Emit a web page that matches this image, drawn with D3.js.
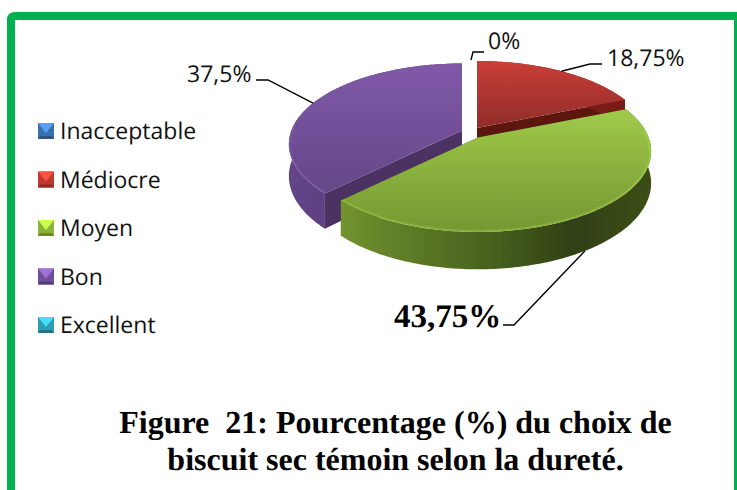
<!DOCTYPE html>
<html><head><meta charset="utf-8">
<script src="https://cdn.jsdelivr.net/npm/d3@7"></script>
<style>html,body{margin:0;padding:0;background:#fff}svg{display:block;text-rendering:geometricPrecision}</style></head>
<body><svg id="c" width="737" height="490"></svg>
<script>
const categories = ["Inacceptable","Médiocre","Moyen","Bon","Excellent"];
const values = [0,18.75,43.75,37.5,0];
const valueLabels = ["0%","18,75%","43,75%","37,5%",""];
const baseColors = ["#3a70ad","#c0392f","#8db33a","#6f4f99","#2f9db5"];
const titleLines = ["Figure  21: Pourcentage (%) du choix de","biscuit sec témoin selon la dureté."];

const svg = d3.select("#c");
const defs = svg.append("defs");

// Frame
svg.append("path").attr("d","M11,490 V20 Q11,16 15,16 H737").attr("fill","none")
  .attr("stroke","#00b050").attr("stroke-width",8);
svg.append("rect").attr("x",734).attr("y",12).attr("width",3).attr("height",478).attr("fill","#00b050");

// Perspective disc projection
const Rx=170.6,Ry=78.4,P=0.17,Depth=31;
const project=(a,r,c,drop=0)=>{
  const X=r*Math.sin(a),Z=r*Math.cos(a),w=1/(1+P*Z);
  return [c[0]+Rx*X*w, c[1]-Ry*Z*w+drop*w];
};
const pieGen=d3.pie().sort(null).value(d=>d).startAngle(0).endAngle(2*Math.PI);
const arcs=pieGen(values);
const line=d3.line();
const centres={1:[477,128],2:[478,137.5],3:[462,130.5]};
const topGrad={1:["#cb3d38","#8f2d29"],2:["#9fcb49","#759632"],3:["#8059a9","#654788"]};
const wallGrad={
  1:[["#7a1c18",0],["#7a1c18",1]],
  2:[["#73932f",0],["#5f7d27",.2],["#46601d",.5],["#313f15",.75],["#3c4f18",1]],
  3:[["#644589",0],["#553a76",.5],["#4f356e",1]]
};
const innerWall={1:"#5d1511",2:"#3d5018",3:"#4b3162"};

function lg(id,stops,horizontal){
  const g=defs.append("linearGradient").attr("id",id)
    .attr("x1",0).attr("y1",0).attr("x2",horizontal?1:0).attr("y2",horizontal?0:1);
  stops.forEach(s=>g.append("stop").attr("offset",s[1]).attr("stop-color",s[0]));
}
defs.append("filter").attr("id","blur").attr("x","-5%").attr("y","-5%").attr("width","110%").attr("height","110%")
  .append("feGaussianBlur").attr("stdDeviation",0.8);
defs.append("filter").attr("id","soft").attr("x","-5%").attr("y","-5%").attr("width","110%").attr("height","110%")
  .append("feGaussianBlur").attr("stdDeviation",0.45);

const gPie=svg.append("g").attr("filter","url(#soft)");
[3,1,2].forEach(i=>{
  const a=arcs[i],c=centres[i];
  const n=Math.max(12,Math.round((a.endAngle-a.startAngle)*60));
  const angs=d3.range(n+1).map(k=>a.startAngle+(a.endAngle-a.startAngle)*k/n);
  const rim=angs.map(t=>project(t,1,c));
  const rimLow=angs.map(t=>project(t,1,c,Depth));
  lg("top"+i,[[topGrad[i][0],0],[topGrad[i][1],1]],false);
  lg("wall"+i,wallGrad[i],true);
  const apex=project(0,0,c),apexLow=project(0,0,c,Depth);
  [[rim[0],rimLow[0]],[rim[n],rimLow[n]]].forEach(e=>{
    gPie.append("path").attr("d",line([apex,e[0],e[1],apexLow])+"Z").attr("fill",innerWall[i]);
  });
  gPie.append("path").attr("d",line(rim.concat(rimLow.slice().reverse()))+"Z").attr("fill",`url(#wall${i})`);
  const topPts=[apex].concat(rim);
  gPie.append("path").attr("d",line(topPts)+"Z").attr("fill",`url(#top${i})`);
  // bevel highlight, front part of the rim only
  const cid="clip"+i;
  defs.append("clipPath").attr("id",cid).append("path").attr("d",line(topPts)+"Z");
  const frontRim=angs.filter(t=>Math.cos(t)<0.1).map(t=>project(t,1,c));
  if(frontRim.length>1) gPie.append("g").attr("clip-path",`url(#${cid})`).append("path").attr("d",line(frontRim))
    .attr("fill","none").attr("stroke",d3.color(topGrad[i][0]).brighter(0.5)).attr("stroke-width",2.5)
    .attr("opacity",.45).attr("filter","url(#blur)");
});

// Leader lines, anchored on slices via the projection
const leaders=[
  {i:0,text:[488,49],path:[[471,60],[473,52],[484,52]]},
  {i:1,text:[607,66],path:[project(arcs[1].startAngle+0.6,1,centres[1]),[590,64],[602,64]]},
  {i:3,text:[187,82],path:[project(arcs[3].startAngle+1.166,1,centres[3]),[268,80],[256,80]]}
];
const gLab=svg.append("g");
leaders.forEach(l=>{
  gLab.append("path").attr("d",line(l.path)).attr("fill","none").attr("stroke","#000").attr("stroke-width",1.4);
  gLab.append("text").attr("x",l.text[0]).attr("y",l.text[1]).text(valueLabels[l.i])
    .attr("font-family","'Open Sans'").attr("font-size",23).attr("fill","#111");
});
const greenAnchor=project(arcs[2].startAngle+1.397,1,centres[2],Depth);
gLab.append("path").attr("d",line([greenAnchor,[514,325],[503,325]])).attr("fill","none").attr("stroke","#000").attr("stroke-width",1.4);
gLab.append("text").attr("x",394).attr("y",327).text(valueLabels[2])
  .attr("font-family","'Liberation Serif'").attr("font-weight","bold").attr("font-size",33).attr("fill","#000");

// Legend
const ly=d3.scalePoint().domain(categories).range([131,325]);
const gLeg=svg.append("g");
categories.forEach((cat,i)=>{
  const y=ly(cat),x=38,s=16,col=d3.color(baseColors[i]);
  const g=gLeg.append("g").attr("transform",`translate(${x},${y-8})`);
  g.append("rect").attr("width",s).attr("height",s).attr("fill",col);
  g.append("path").attr("d",line([[0,0],[s,0],[s/2,s/2+2]])+"Z").attr("fill",col.brighter(1));
  g.append("path").attr("d",line([[0,s],[s,s],[s-2,s-3],[2,s-3]])+"Z").attr("fill",col.darker(.8));
  gLeg.append("text").attr("x",60).attr("y",y+8).text(cat)
    .attr("font-family","'Open Sans'").attr("font-size",23).attr("fill","#111");
});

// Title
const ty=d3.scalePoint().domain(titleLines).range([433,470]);
titleLines.forEach(t=>{
  svg.append("text").attr("x",395.5).attr("y",ty(t)).attr("text-anchor","middle").text(t)
    .style("white-space","pre")
    .attr("font-family","'Liberation Serif'").attr("font-weight","bold").attr("font-size",32).attr("fill","#000");
});
</script></body></html>
